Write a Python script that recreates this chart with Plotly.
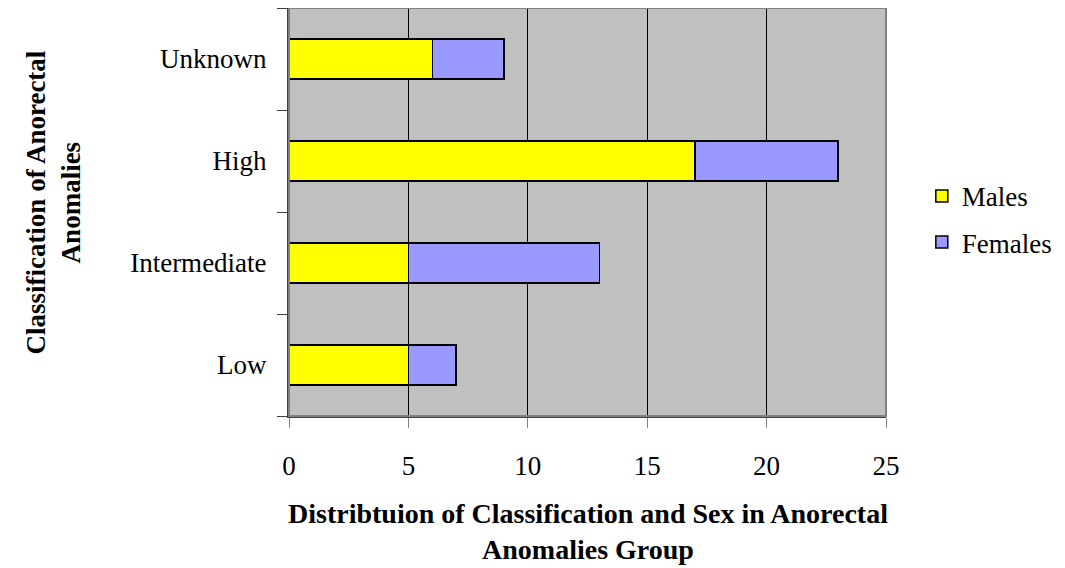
import plotly.graph_objects as go

categories = ["Low", "Intermediate", "High", "Unknown"]
males = [5, 5, 17, 6]
females = [2, 8, 6, 3]
x_ticks = [0, 5, 10, 15, 20, 25]

FONT = "Liberation Serif, Times New Roman, serif"
FS = 27

fig = go.Figure()
fig.add_trace(go.Bar(y=categories, x=males, name="Males", orientation="h",
                     marker=dict(color="#FFFF00", line=dict(color="black", width=1.5)),
                     legendgroup="m"))
fig.add_trace(go.Bar(y=categories, x=females, name="Females", orientation="h",
                     marker=dict(color="#9999FF", line=dict(color="black", width=1.5)),
                     legendgroup="f"))

# page has an 8px body margin, so figure is 1057x560 placed at (8, 8)
fig.update_layout(
    width=1057, height=560,
    margin=dict(l=281, r=179, t=0, b=152),
    barmode="stack", bargap=0.61,
    plot_bgcolor="#C0C0C0", paper_bgcolor="white",
    font=dict(family=FONT, size=FS, color="black"),
    showlegend=True,
    legend=dict(x=1.060, y=0.482, xanchor="left", yanchor="middle",
                traceorder="grouped", tracegroupgap=8,
                font=dict(family=FONT, size=FS), bgcolor="rgba(0,0,0,0)"),
    xaxis=dict(range=[0, 25], tickvals=x_ticks, ticks="outside", ticklen=10,
               tickcolor="#808080", showgrid=True, gridcolor="black", gridwidth=1,
               showline=True, linecolor="#404040", linewidth=2, zeroline=False,
               ticklabelstandoff=15, fixedrange=True),
    yaxis=dict(type="category", categoryorder="array", categoryarray=categories,
               ticks="outside", ticklen=10, tickcolor="#404040", tickson="boundaries",
               showline=True, linecolor="#404040", linewidth=2, showgrid=False,
               ticklabelstandoff=15),
    shapes=[dict(type="rect", xref="paper", yref="paper", x0=0, x1=1, y0=0, y1=1,
                 line=dict(color="#808080", width=2), layer="above")],
    annotations=[
        dict(text="Classification of Anorectal<br>Anomalies", textangle=-90,
             xref="paper", yref="paper", x=-0.396, y=0.522,
             xanchor="center", yanchor="middle", showarrow=False,
             font=dict(family=FONT, size=27, color="black", weight="bold")),
        dict(text="Distribtuion of Classification and Sex in Anorectal<br>Anomalies Group",
             xref="paper", yref="paper", x=0.5, y=-0.282,
             xanchor="center", yanchor="middle", showarrow=False,
             font=dict(family=FONT, size=28, color="black", weight="bold")),
    ],
)

fig.write_html("out.html")
